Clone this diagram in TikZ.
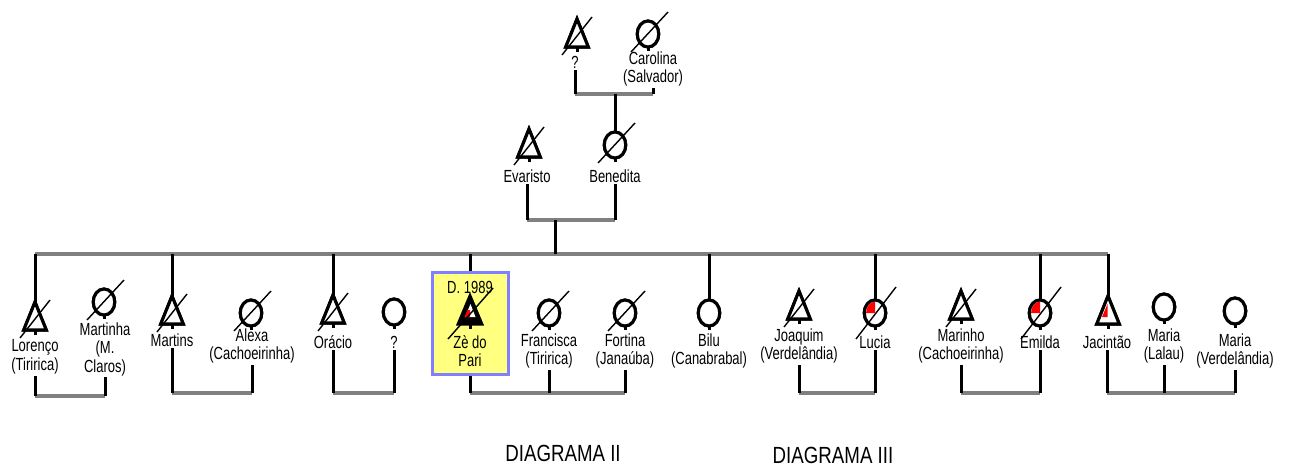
\documentclass[tikz,border=0pt]{standalone}
\usepackage{fontspec}
\setmainfont{Liberation Sans}
\usetikzlibrary{shapes.geometric}
\definecolor{linegray}{RGB}{128,128,128}
\definecolor{boxfill}{RGB}{255,255,128}
\definecolor{boxedge}{RGB}{128,128,255}
\definecolor{affected}{RGB}{255,0,0}
% tall, narrow lettering
\newcommand{\tl}[1]{\scalebox{1}[1.35]{#1}}
\newcommand{\tlb}[1]{\scalebox{1}[1.25]{#1}}
% slash through a symbol: anchor, start offset, end offset
\newcommand{\deceased}[5]{\draw[slash] ([shift={(#2,#3)}]#1) -- ([shift={(#4,#5)}]#1);}
\begin{document}
\begin{tikzpicture}[x=1pt,y=-1pt,
  sym/.style={draw=black, line width=3.1pt, inner sep=0pt, outer sep=0pt, fill=white},
  female/.style={sym, ellipse, minimum width=21.5pt, minimum height=26pt},
  male/.style={sym, isosceles triangle, shape border rotate=90, isosceles triangle stretches,
               minimum width=22.5pt, minimum height=28pt, anchor=apex},
  slash/.style={line width=1.4pt},
  stem/.style={line width=3pt},
  hline/.style={draw=linegray, line width=4pt},
  vline/.style={line width=3pt},
  lbl/.style={inner sep=1.5pt, align=center, font=\fontsize{13}{18.5}\selectfont},
  title/.style={inner sep=0pt, font=\fontsize{18.7}{20}\selectfont},
  zbox/.style={draw=boxedge, fill=boxfill, line width=3pt, minimum width=76pt,
               minimum height=102pt, inner sep=0pt}
]
\useasboundingbox (0,0) rectangle (1289,466);

% ---------- labels ----------
\node[lbl] (grandfather-l) at (575,62) {\tl{?}};
\node[lbl] (carolina-l) at (653,69) {\tl{Carolina}\\\tl{(Salvador)}};
\node[lbl] (evaristo-l) at (527,176) {\tl{Evaristo}};
\node[lbl] (benedita-l) at (615,176) {\tl{Benedita}};

\node[lbl] (lorenco-l) at (35,357) {\tl{Lorenço}\\\tl{(Tiririca)}};
\node[lbl] (martinha-l) at (105,349) {\tl{Martinha}\\\tl{(M.}\\\tl{Claros)}};
\node[lbl] (martins-l) at (172,340) {\tl{Martins}};
\node[lbl] (alexa-l) at (252,346) {\tl{Alexa}\\\tl{(Cachoeirinha)}};
\node[lbl] (oracio-l) at (333,342) {\tl{Orácio}};
\node[lbl] (unknown-l) at (394,342) {\tl{?}};
\node[lbl] (francisca-l) at (549,351) {\tl{Francisca}\\\tl{(Tiririca)}};
\node[lbl] (fortina-l) at (625,351) {\tl{Fortina}\\\tl{(Janaúba)}};
\node[lbl] (bilu-l) at (709,351) {\tl{Bilu}\\\tl{(Canabrabal)}};
\node[lbl] (joaquim-l) at (799,346) {\tl{Joaquim}\\\tl{(Verdelândia)}};
\node[lbl] (lucia-l) at (875,342) {\tl{Lucia}};
\node[lbl] (marinho-l) at (961,346) {\tl{Marinho}\\\tl{(Cachoeirinha)}};
\node[lbl] (emilda-l) at (1040,342) {\tl{Emilda}};
\node[lbl] (jacintao-l) at (1107,342) {\tl{Jacintão}};
\node[lbl] (marial-l) at (1164,346) {\tl{Maria}\\\tl{(Lalau)}};
\node[lbl] (mariav-l) at (1235,351) {\tl{Maria}\\\tl{(Verdelândia)}};

\node[title] (diag2) at (563,453) {\tlb{DIAGRAMA II}};
\node[title] (diag3) at (833,455) {\tlb{DIAGRAMA III}};

% ---------- line anchors ----------
\coordinate (topline) at (0,94);
\coordinate (parentline) at (555,220);
\coordinate (sibline) at (555,254);
\coordinate (cA) at (0,396);
\coordinate (cB) at (0,393);

% ---------- symbols (positions only, drawn later) ----------
\path
  node[male] (grandfather) at (577,19) {}
  node[female] (carolina) at (648,34) {}
  node[male] (evaristo) at (529,129) {}
  node[female] (benedita) at (615,145) {}
  node[male] (lorenco) at (35,302) {}
  node[female] (martinha) at (104,302) {}
  node[male] (martins) at (172,296) {}
  node[female] (alexa) at (251,313) {}
  node[male] (oracio) at (333,295) {}
  node[female] (unknown) at (394,312) {}
  node[female] (francisca) at (549,313) {}
  node[female] (fortina) at (625,313) {}
  node[female] (bilu) at (709,313) {}
  node[male] (joaquim) at (799,291) {}
  node[female] (lucia) at (875,313) {}
  node[male] (marinho) at (961,291) {}
  node[female] (emilda) at (1040,313) {}
  node[male] (jacintao) at (1108,296) {}
  node[female] (marial) at (1164,307) {}
  node[female] (mariav) at (1235,311) {};

% ---------- horizontal lines ----------
\draw[hline] (grandfather-l.south |- topline) -- (carolina-l.south |- topline);
\draw[hline] (evaristo-l.south |- parentline) -- (benedita-l.south |- parentline);
\draw[hline] (lorenco.apex |- sibline) -- (jacintao.apex |- sibline);
\draw[hline] (lorenco-l.south |- cA) -- (martinha-l.south |- cA);
\draw[hline] (martins-l.south |- cB) -- (alexa-l.south |- cB);
\draw[hline] (oracio-l.south |- cB) -- (unknown-l.south |- cB);
\draw[hline] (470,393) -- (fortina-l.south |- cB);
\draw[hline] (joaquim-l.south |- cB) -- (lucia-l.south |- cB);
\draw[hline] (marinho-l.south |- cB) -- (emilda-l.south |- cB);
\draw[hline] (jacintao-l.south |- cB) -- (mariav-l.south |- cB);

% ---------- vertical lines ----------
\draw[vline] (grandfather-l.south) -- (grandfather-l.south |- topline);
\draw[vline] (carolina-l.south) -- (carolina-l.south |- topline);
\draw[vline] (benedita.north |- topline) -- (benedita.north);
\draw[vline] (evaristo-l.south) -- (evaristo-l.south |- parentline);
\draw[vline] (benedita-l.south) -- (benedita-l.south |- parentline);
\draw[vline] (parentline) -- (sibline);
\foreach \n in {lorenco, martins, oracio, jacintao}
  {\draw[vline] (\n.apex |- sibline) -- (\n.apex);}
\foreach \n in {bilu, lucia, emilda}
  {\draw[vline] (\n.north |- sibline) -- (\n.north);}
\foreach \n/\c in {lorenco/cA, martinha/cA, martins/cB, alexa/cB, oracio/cB, unknown/cB,
                   francisca/cB, fortina/cB, joaquim/cB, lucia/cB, marinho/cB, emilda/cB,
                   jacintao/cB, marial/cB, mariav/cB}
  {\draw[vline] (\n-l.south) -- (\n-l.south |- \c);}

% ---------- index person ----------
\node[zbox] (zebox) at (470,323) {};
\draw[vline] (zebox.north |- sibline) -- (zebox.north);
\draw[vline] (zebox.south) -- (zebox.south |- cB);
\node[lbl] (ze-d) at (470,287) {\tl{D. 1989}};
\node[lbl] (ze-l) at (470,351) {\tl{Zè do}\\\tl{Pari}};
\node[male, fill=black, minimum width=23.5pt] (ze) at (470,296) {};
\fill[white] ([shift={(0.5,8)}]ze.apex) -- ([shift={(5.5,21)}]ze.apex) -- ([shift={(-5,21)}]ze.apex) -- cycle;
\fill[affected] ([shift={(-2.5,14)}]ze.apex) -- ([shift={(0,14)}]ze.apex) -- ([shift={(0,21)}]ze.apex) -- ([shift={(-5.5,21)}]ze.apex) -- cycle;
\deceased{ze.apex}{-22}{43}{23}{-8}

% ---------- symbols ----------
\foreach \n in {grandfather, evaristo, lorenco, martins, oracio, joaquim, marinho, jacintao}
  {\node[male] at (\n.apex) {};}
\foreach \n in {carolina, benedita, martinha, alexa, unknown, francisca, fortina, bilu,
                lucia, emilda, marial, mariav}
  {\node[female] at (\n.center) {};}

\foreach \n in {grandfather, evaristo, lorenco, martins, oracio, ze, joaquim, marinho, jacintao}
  {\draw[stem] (\n.lower side) -- ++(0,5);}
\foreach \n in {carolina, benedita, martinha, alexa, unknown, francisca, fortina, bilu,
                lucia, emilda, marial, mariav}
  {\draw[stem] (\n.south) -- ++(0,4);}

% affected markings
\foreach \n in {lucia, emilda}
  {\fill[affected] (\n.center) -- ++(-8.9,0)
     arc[start angle=180, end angle=270, x radius=8.9, y radius=11.4] -- cycle;}
\fill[affected] ([shift={(-0.5,8)}]jacintao.apex) -- ([shift={(-6,21)}]jacintao.apex)
     -- ([shift={(-0.5,21)}]jacintao.apex) -- cycle;

% deceased slashes
\foreach \n in {grandfather, evaristo, lorenco, martins, oracio, joaquim, marinho}
  {\deceased{\n.apex}{-15}{36}{15}{-2}}
\foreach \n in {carolina, benedita, martinha, alexa, francisca, fortina}
  {\deceased{\n.center}{-17}{18}{20}{-22}}
\foreach \n in {lucia, emilda}
  {\deceased{\n.center}{-19}{26}{21}{-26}}
\end{tikzpicture}
\end{document}
